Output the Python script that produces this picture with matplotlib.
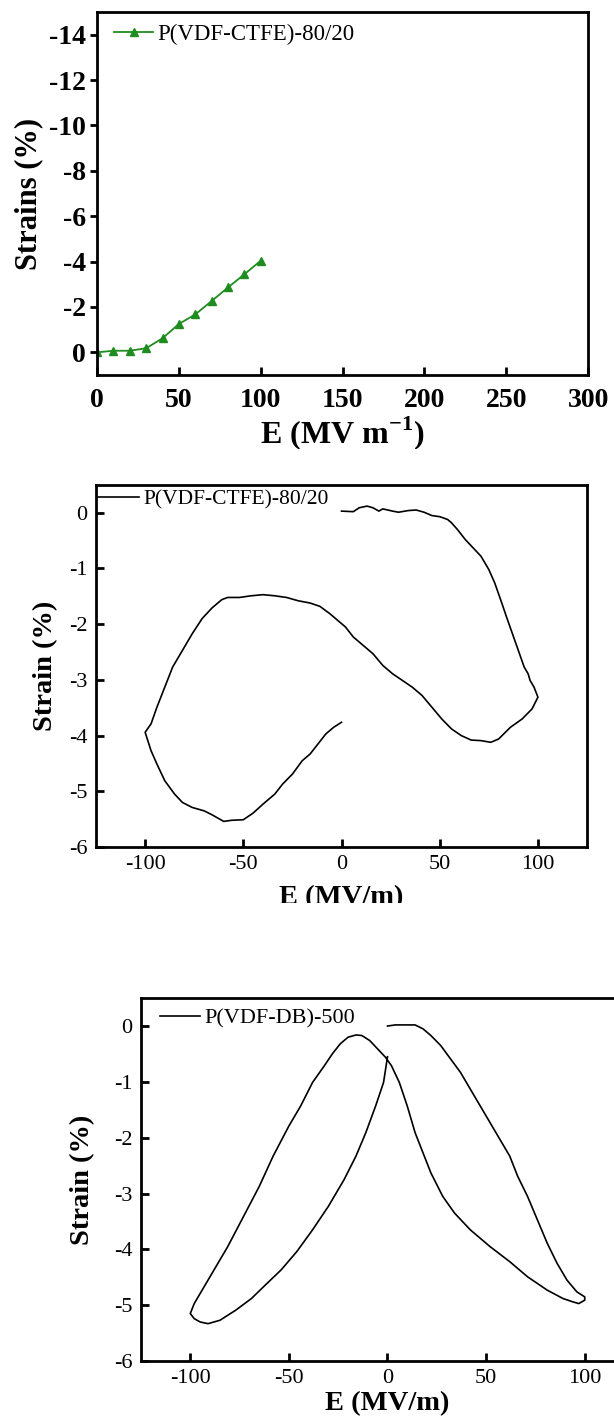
import matplotlib
matplotlib.use("Agg")
import matplotlib.pyplot as plt
from matplotlib.patches import Rectangle

plt.rcParams['font.family'] = ['Liberation Serif', 'DejaVu Serif']
plt.rcParams['mathtext.fontset'] = 'custom'
plt.rcParams['mathtext.rm'] = 'Liberation Serif'
plt.rcParams['mathtext.bf'] = 'Liberation Serif:bold'
plt.rcParams['axes.unicode_minus'] = False

# panel 1: strain vs field, P(VDF-CTFE)-80/20
e1 = [0, 10, 20, 30, 40, 50, 60, 70, 80, 90, 100]
s1 = [0, -0.07, -0.07, -0.18, -0.62, -1.25, -1.67, -2.26, -2.86, -3.44, -4.04]

# panel 2: butterfly loop, P(VDF-CTFE)-80/20
e2 = [0, 6, 9, 13, 16, 19, 21, 26, 29, 34, 38, 42, 46, 50, 54, 56, 59, 63, 67, 71,
      75, 78, 81, 84, 87, 90, 93, 95, 96, 98, 100, 97, 92, 86, 80, 76, 71, 66, 61,
      56, 51, 46, 41, 36, 31, 26, 21, 16, 11, 6, 2, -2, -6, -11, -16, -22, -28, -34,
      -40, -46, -52, -58, -61, -66, -71, -76, -81, -86, -90, -94, -97, -100, -97, -94,
      -90, -85, -81, -76, -70, -66, -60, -56, -50, -45, -40, -34, -30, -25, -20, -16,
      -12, -8, -4, 0]
s2 = [0.03, 0.02, 0.09, 0.12, 0.09, 0.03, 0.07, 0.03, 0.01, 0.04, 0.05, 0.01, -0.05,
      -0.07, -0.12, -0.18, -0.30, -0.48, -0.63, -0.78, -1.02, -1.26, -1.56, -1.87,
      -2.17, -2.47, -2.77, -2.89, -3.01, -3.13, -3.31, -3.52, -3.70, -3.85, -4.06,
      -4.12, -4.09, -4.08, -4.00, -3.88, -3.70, -3.49, -3.28, -3.13, -3.01, -2.89,
      -2.74, -2.53, -2.38, -2.23, -2.05, -1.93, -1.81, -1.68, -1.62, -1.58, -1.52,
      -1.49, -1.47, -1.49, -1.52, -1.52, -1.56, -1.71, -1.90, -2.17, -2.47, -2.77,
      -3.13, -3.49, -3.79, -3.94, -4.27, -4.51, -4.81, -5.05, -5.20, -5.29, -5.35,
      -5.42, -5.54, -5.52, -5.51, -5.39, -5.23, -5.05, -4.87, -4.69, -4.45, -4.33,
      -4.15, -3.97, -3.85, -3.76]

# panel 3: butterfly loop, P(VDF-DB)-500
e3 = [0, 4, 10, 14, 18, 22, 27, 32, 37, 42, 47, 52, 57, 62, 66, 71, 76, 81, 86, 91,
      96, 100, 100, 97, 94, 89, 81, 71, 62, 52, 42, 34, 28, 22, 18, 14, 10, 6, 2, -1,
      -5, -9, -13, -16, -20, -24, -28, -32, -38, -44, -50, -58, -65, -73, -81, -87,
      -93, -98, -100, -98, -95, -91, -85, -77, -69, -62, -54, -46, -38, -30, -22,
      -16, -11, -6, -2, 0]
s3 = [0, 0.02, 0.02, 0.02, -0.05, -0.17, -0.35, -0.59, -0.83, -1.13, -1.43, -1.73,
      -2.03, -2.33, -2.69, -3.05, -3.47, -3.89, -4.25, -4.55, -4.76, -4.85, -4.91,
      -4.97, -4.94, -4.88, -4.73, -4.49, -4.22, -3.95, -3.65, -3.35, -3.05, -2.63,
      -2.27, -1.91, -1.43, -1.01, -0.71, -0.56, -0.41, -0.26, -0.17, -0.16, -0.20,
      -0.32, -0.50, -0.71, -1.01, -1.43, -1.79, -2.33, -2.87, -3.41, -3.95, -4.31,
      -4.67, -4.97, -5.15, -5.24, -5.30, -5.33, -5.27, -5.09, -4.88, -4.64, -4.37,
      -4.04, -3.65, -3.23, -2.75, -2.33, -1.91, -1.43, -1.01, -0.55]

fig = plt.figure(figsize=(6.14, 14.2), dpi=100)


def style(ax, bold, size):
    for sp in ax.spines.values():
        sp.set_linewidth(2.0)
    ax.tick_params(direction='in', length=6, width=2.0, labelsize=size, pad=6,
                   top=False, right=False)
    for lab in ax.get_xticklabels() + ax.get_yticklabels():
        lab.set_fontweight('bold' if bold else 'normal')


# ---- panel 1
ax1 = fig.add_axes([0.158, 0.7359, 0.800, 0.2556])
ax1.plot(e1, s1, color='#1f8c1f', lw=1.3, marker='^', ms=6,
         label='P(VDF-CTFE)-80/20')
ax1.set_xlim(0, 300)
ax1.set_ylim(1, -15)
ax1.set_xticks([0, 50, 100, 150, 200, 250, 300])
ax1.set_yticks([0, -2, -4, -6, -8, -10, -12, -14])
style(ax1, True, 20)
ax1.tick_params(axis='x', pad=9)
ax1.tick_params(axis='y', direction='out', length=5, pad=3)
ax1.set_xlabel(r'E (MV m$^{\mathbf{-1}}$)', fontsize=23, fontweight='bold', labelpad=1)
ax1.set_ylabel('Strains (%)', fontsize=22, fontweight='bold', labelpad=4)
ax1.legend(loc='center left', bbox_to_anchor=(0.035, 0.9375), frameon=False,
           fontsize=16.5, handlelength=1.7, handletextpad=0.17, borderpad=0,
           borderaxespad=0)

# ---- panel 2
ax2 = fig.add_axes([0.1564, 0.4035, 0.7997, 0.255])
ax2.plot(e2, s2, color='black', lw=1.2, label='P(VDF-CTFE)-80/20')
ax2.set_xlim(-125, 125)
ax2.set_ylim(-6, 0.5)
ax2.set_xticks([-100, -50, 0, 50, 100])
ax2.set_yticks([0, -1, -2, -3, -4, -5, -6])
style(ax2, False, 16)
ax2.set_xlabel('E (MV/m)', fontsize=20.5, fontweight='bold', labelpad=8)
ax2.set_ylabel('Strain (%)', fontsize=20.5, fontweight='bold', labelpad=8)
ax2.legend(loc='center left', bbox_to_anchor=(0.004, 0.96), frameon=False,
           fontsize=15.5, handlelength=1.9, handletextpad=0.2, borderpad=0,
           borderaxespad=0)

# ---- panel 3
ax3 = fig.add_axes([0.2296, 0.0415, 0.803, 0.2556])
ax3.plot(e3, s3, color='black', lw=1.2, label='P(VDF-DB)-500')
ax3.set_xlim(-125, 125)
ax3.set_ylim(-6, 0.5)
ax3.set_xticks([-100, -50, 0, 50, 100])
ax3.set_yticks([0, -1, -2, -3, -4, -5, -6])
style(ax3, False, 16)
ax3.set_xlabel('E (MV/m)', fontsize=20.5, fontweight='bold', labelpad=2)
ax3.set_ylabel('Strain (%)', fontsize=20.5, fontweight='bold', labelpad=14)
ax3.legend(loc='center left', bbox_to_anchor=(0.0385, 0.945), frameon=False,
           fontsize=16, handlelength=1.8, handletextpad=0.2, borderpad=0,
           borderaxespad=0)

# the x labels of the first two panels are cut off in the source figure
fig.patches.append(Rectangle((0, 1 - 480 / 1420), 1, 31 / 1420,
                             transform=fig.transFigure, facecolor='white',
                             edgecolor='none', zorder=10))
fig.patches.append(Rectangle((0, 1 - 940 / 1420), 1, 37 / 1420,
                             transform=fig.transFigure, facecolor='white',
                             edgecolor='none', zorder=10))

fig.savefig('out.png', dpi=100)
